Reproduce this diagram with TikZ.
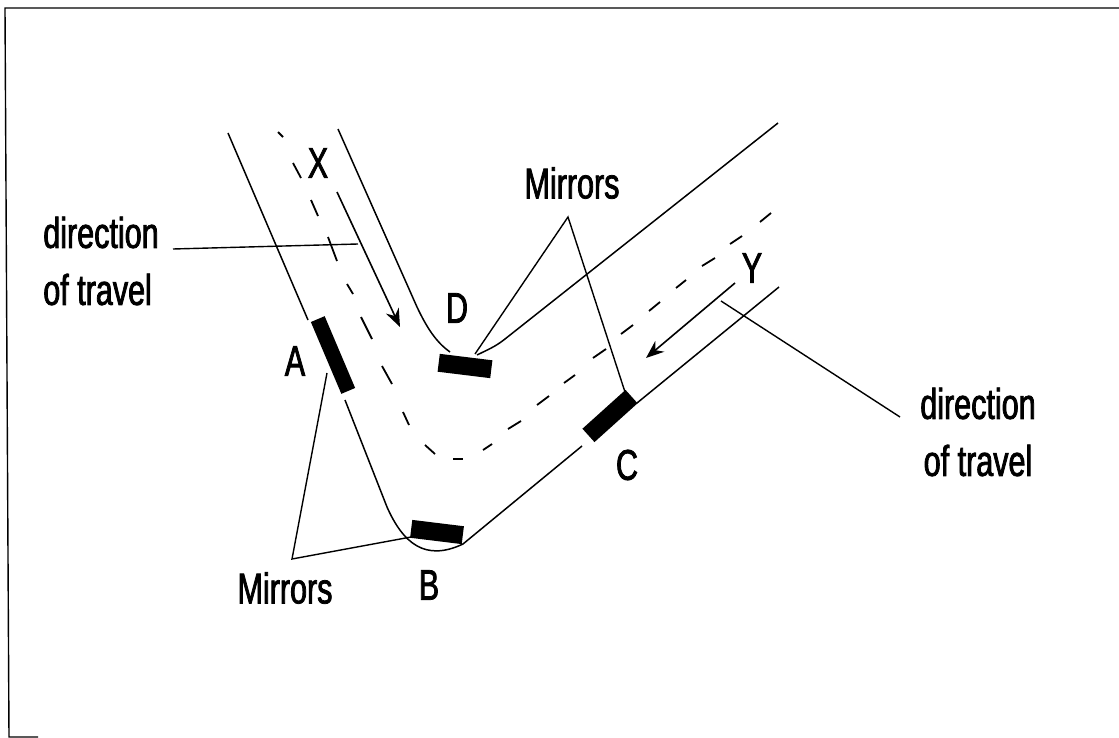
\documentclass[tikz,border=0pt]{standalone}
\usepackage{fontspec}
\usepackage{xcolor}
\usetikzlibrary{arrows.meta}
\newfontfamily\narrowfont[FakeStretch=0.71,FakeBold=1.8]{Liberation Sans}

\begin{document}
\begin{tikzpicture}[
    x=1pt, y=-1pt,
    lbl/.style={inner sep=0pt, font=\fontsize{43}{57}\selectfont\narrowfont, align=center},
    mirror/.style={draw=none, fill=black, inner sep=0pt, minimum width=#1, minimum height=18pt},
    road/.style={line width=1.5pt},
    leader/.style={line width=1.4pt},
    lane/.style={line width=1.8pt},
    arr/.style={-{Stealth[length=18pt, width=14pt]}, line width=1.6pt}
]
\useasboundingbox (0,0) rectangle (1119,738);
\fill[white] (0,0) rectangle (1119,738);
\draw[line width=1.4pt] (38,737) -- (9,737) -- (5,8) -- (1119,8);

\node[mirror=78pt, rotate=-67, minimum height=15pt] (mirrorA) at (333,355) {};
\node[mirror=52pt, rotate=-7] (mirrorB) at (437,532) {};
\node[mirror=58pt, rotate=42] (mirrorC) at (610,416) {};
\node[mirror=53pt, rotate=-7] (mirrorD) at (465,366) {};

\node[lbl] (labelA) at (295,361) {A};
\node[lbl] (labelB) at (429,585) {B};
\node[lbl] (labelC) at (627,465) {C};
\node[lbl] (labelD) at (457,308) {D};
\node[lbl] (labelX) at (318,163) {X};
\node[lbl] (labelY) at (752,268) {Y};
\node[lbl] (mirrorsTop) at (572,183) {Mirrors};
\node[lbl] (mirrorsLow) at (285,588) {Mirrors};
\node[lbl, align=left] (travelX) at (101,261) {direction\\of travel};
\node[lbl] (travelY) at (978,432) {direction\\of travel};

\coordinate (apexTop) at (568,217);
\coordinate (apexLow) at (292,559);
\coordinate (legA) at (327,373);
\coordinate (legB) at (411,537);
\coordinate (legC) at (625,392);
\coordinate (legD) at (475,354);
\coordinate (roadAin) at (228,133);
\coordinate (roadAout) at (308,320);
\coordinate (roadBin) at (345,400);
\coordinate (roadBout) at (582,446);
\coordinate (roadCout) at (637,403);
\coordinate (roadEnd) at (779,287);
\coordinate (innerIn) at (338,129);
\coordinate (innerOut) at (778,123);
\coordinate (arrowXin) at (337,192);
\coordinate (arrowXout) at (400,327);
\coordinate (arrowYin) at (735,283);
\coordinate (arrowYout) at (646,358);
\coordinate (travelXin) at (173,249);
\coordinate (travelXend) at (358,244);
\coordinate (travelYin) at (900,417);
\coordinate (travelYend) at (721,301);

\draw[road] (roadAin) -- (roadAout);
\draw[road] (roadBin) -- (387,507) .. controls (403,543) and (425,562) .. (463,544) -- (roadBout);
\draw[road] (roadCout) -- (roadEnd);
\draw[road] (innerIn) -- (417,307) .. controls (427,328) and (436,342) .. (450,352);
\draw[road] (477,355) .. controls (487,350) and (495,347) .. (505,339) -- (innerOut);

\foreach \xa/\ya/\xb/\yb in {278/132/283/137, 293/163/301/178, 311/200/318/216, 328/237/337/261,
    347/284/353/294, 361/317/372/339, 382/366/392/384, 403/412/409/425, 425/445/435/454,
    453/459/463/459, 483/450/492/444, 508/429/521/421, 537/405/549/396, 564/383/575/375,
    593/358/606/349, 621/334/633/325, 649/311/660/302, 676/288/686/280, 702/266/715/258,
    730/244/742/236, 760/222/771/213}
    \draw[lane] (\xa,\ya) -- (\xb,\yb);

\draw[arr] (arrowXin) -- (arrowXout);
\draw[arr] (arrowYin) -- (arrowYout);

\draw[leader] (travelXin) -- (travelXend);
\draw[leader] (travelYin) -- (travelYend);
\draw[leader] (legD) -- (apexTop) -- (legC);
\draw[leader] (legA) -- (apexLow) -- (legB);
\end{tikzpicture}
\end{document}
